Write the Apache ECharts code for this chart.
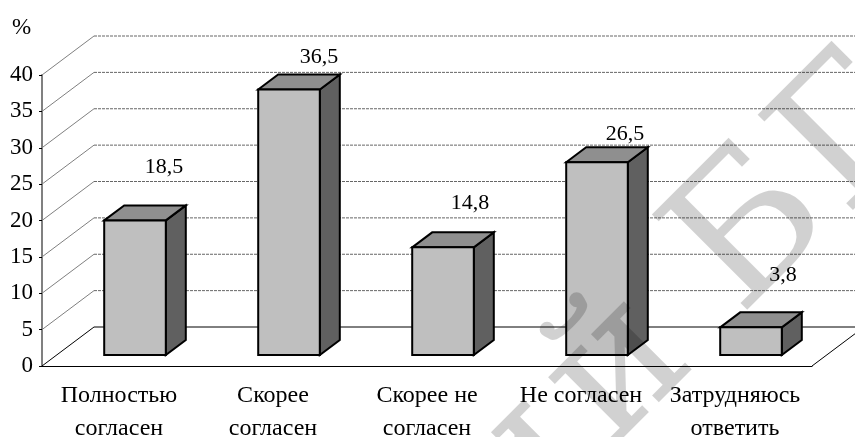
<!DOCTYPE html>
<html>
<head>
<meta charset="utf-8">
<style>html,body{margin:0;padding:0;background:#fff}#chart{width:855px;height:437px}</style>
<script src="https://cdn.jsdelivr.net/npm/echarts@6/dist/echarts.min.js"></script>
</head>
<body>
<div id="chart"></div>
<script>
var categories = ['Полностью\nсогласен', 'Скорее\nсогласен', 'Скорее не\nсогласен', 'Не согласен', 'Затрудняюсь\nответить'];
var values = [18.5, 36.5, 14.8, 26.5, 3.8];
var valueLabels = ['18,5', '36,5', '14,8', '26,5', '3,8'];
var gridValues = [0, 5, 10, 15, 20, 25, 30, 35, 40];

// depth of the fake 3d box
var wallDx = 52, wallDy = -39;
var barDx = 16, barDy = -11, sideDx = 20, sideDy = -15;
// hand placed labels in the original, px from front top corner
var labelNudge = [[29, -53], [30, -32], [27, -44], [28, -28], [32, -52]];
var serif = '"Liberation Serif","Times New Roman",serif';

// repository watermark, letters set one by one along the 45 degree line
var stampLetters = [['и', 521, 470], ['й', 621, 372], ['Б', 754, 235], ['Г', 855, 140]];

var chart = echarts.init(document.getElementById('chart'));

function renderWall(params, api) {
    var v = api.value(0);
    var sys = params.coordSys;
    var p = api.coord([0, v]);
    var x0 = sys.x, y = p[1];
    var kids = [{
        type: 'line',
        shape: {x1: x0, y1: y, x2: x0 + wallDx, y2: y + wallDy},
        style: {stroke: v === 0 ? '#000' : '#808080', lineWidth: 1}
    }, {
        type: 'line',
        shape: {x1: x0 + wallDx, y1: y + wallDy, x2: 855, y2: y + wallDy},
        style: {stroke: v === 0 ? '#000' : '#666', lineWidth: 1, lineDash: v === 0 ? null : [3, 1]}
    }];
    if (v === 0) {
        kids.push({
            type: 'line',
            shape: {x1: sys.x + sys.width, y1: y, x2: sys.x + sys.width + wallDx, y2: y + wallDy},
            style: {stroke: '#000', lineWidth: 1}
        });
    }
    return {type: 'group', children: kids};
}

function renderBar(params, api) {
    var i = api.value(0);
    var base = api.coord([i, 0]);
    var top = api.coord([i, api.value(1)]);
    var w = api.size([1, 0])[0] * 0.4;
    var l = base[0] + barDx - w / 2, r = l + w;
    var b = base[1] + barDy, t = top[1] + barDy;
    var edge = {stroke: '#000', lineWidth: 2, lineJoin: 'miter'};
    return {
        type: 'group',
        children: [{
            type: 'polygon',
            shape: {points: [[r, t], [r + sideDx, t + sideDy], [r + sideDx, b + sideDy], [r, b]]},
            style: Object.assign({fill: '#606060'}, edge)
        }, {
            type: 'polygon',
            shape: {points: [[l, t], [l + sideDx, t + sideDy], [r + sideDx, t + sideDy], [r, t]]},
            style: Object.assign({fill: '#8f8f8f'}, edge)
        }, {
            type: 'rect',
            shape: {x: l, y: t, width: w, height: b - t},
            style: Object.assign({fill: '#bfbfbf'}, edge)
        }, {
            type: 'text',
            style: {
                text: valueLabels[i],
                x: l + w / 2 + labelNudge[i][0],
                y: t + labelNudge[i][1],
                fill: '#000',
                font: '22px ' + serif,
                textAlign: 'center',
                textVerticalAlign: 'middle'
            }
        }]
    };
}

var graphics = [{
    type: 'text',
    x: 12, y: 16,
    style: {text: '%', fill: '#000', font: '23px ' + serif}
}];
stampLetters.forEach(function (s) {
    graphics.push({
        type: 'text',
        z: 100,
        x: s[1], y: s[2],
        rotation: Math.PI / 4,
        silent: true,
        style: {
            text: s[0],
            fill: 'rgba(0,0,0,0.18)',
            font: '185px "DejaVu Serif",serif',
            textAlign: 'center',
            textVerticalAlign: 'middle'
        }
    });
});

option = {
    animation: false,
    backgroundColor: '#fff',
    grid: {left: 42, top: 75, width: 770, height: 291, outerBoundsMode: 'none'},
    graphic: graphics,
    xAxis: {
        type: 'category',
        data: categories,
        boundaryGap: true,
        axisLine: {lineStyle: {color: '#000', width: 1}},
        axisTick: {length: 6, alignWithLabel: false, lineStyle: {color: '#555'}},
        axisLabel: {color: '#000', fontFamily: serif, fontSize: 24, lineHeight: 33, margin: 13, interval: 0}
    },
    yAxis: {
        type: 'value',
        min: 0, max: 40, interval: 5,
        splitLine: {show: false},
        axisLine: {show: true, lineStyle: {color: '#808080', width: 2}},
        axisTick: {show: true, length: 3, lineStyle: {color: '#000'}},
        axisLabel: {color: '#000', fontFamily: serif, fontSize: 23, margin: 9, padding: [4, 0, 0, 0]}
    },
    series: [{
        type: 'custom',
        renderItem: renderWall,
        data: gridValues,
        encode: {y: 0},
        z: 1,
        silent: true
    }, {
        type: 'custom',
        renderItem: renderBar,
        data: values.map(function (v, i) { return [i, v]; }),
        encode: {x: 0, y: 1},
        z: 2
    }]
};

chart.setOption(option);
</script>
</body>
</html>
